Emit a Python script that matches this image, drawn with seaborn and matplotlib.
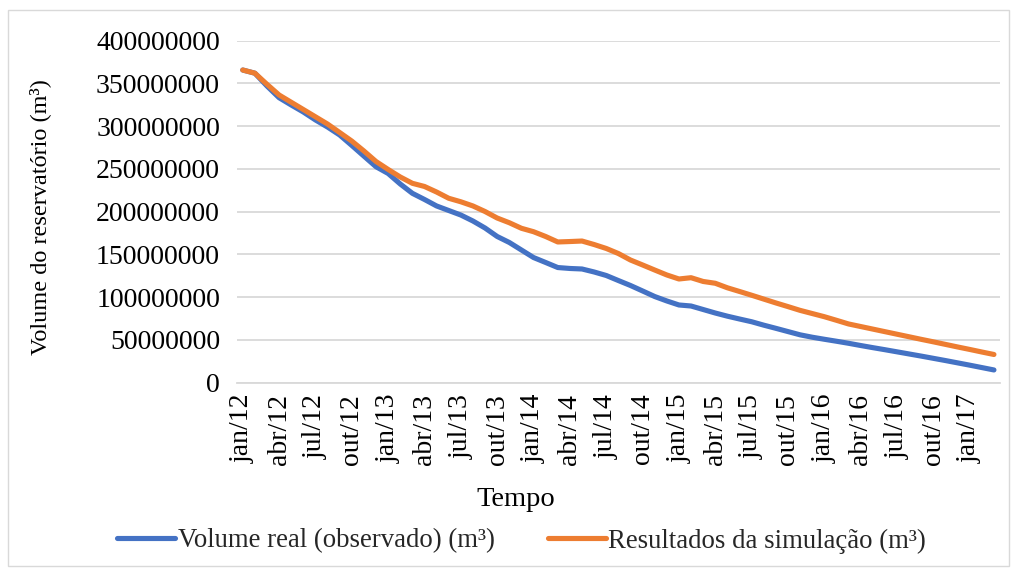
import numpy as np
import pandas as pd
import matplotlib.pyplot as plt
import seaborn as sns
from matplotlib.patches import Rectangle

# Meses (jan/12 .. mar/17)
meses = ['jan', 'fev', 'mar', 'abr', 'mai', 'jun', 'jul', 'ago', 'set', 'out', 'nov', 'dez']
datas = [f'{m}/{a}' for a in range(12, 18) for m in meses][:63]

# Volumes em milhões de m³
volume_real = [
    365.7, 362.0, 347.0, 333.3, 324.8, 316.6, 307.3, 299.0, 289.7, 277.5,
    265.0, 252.6, 244.7, 232.4, 221.5, 214.3, 206.7, 201.4, 196.1, 189.1,
    180.9, 171.0, 164.0, 155.2, 146.4, 140.6, 134.7, 133.6, 133.0, 129.5,
    125.4, 119.5, 113.7, 107.3, 100.8, 95.6, 90.9, 89.7, 85.6, 81.5,
    77.8, 74.5, 71.3, 67.3, 63.6, 59.8, 56.0, 53.2, 50.8, 48.5,
    46.1, 43.5, 41.0, 38.6, 36.1, 33.6, 31.1, 28.5, 25.9, 23.2,
    20.5, 17.7, 14.9,
]
simulacao = [
    365.7, 362.0, 349.0, 336.5, 328.0, 319.5, 311.0, 302.5, 292.6, 282.6,
    271.0, 258.7, 249.4, 240.6, 233.2, 229.5, 223.0, 215.7, 211.6, 206.7,
    200.2, 192.6, 187.1, 180.6, 176.6, 171.0, 164.6, 165.1, 165.7, 161.6,
    157.0, 151.1, 143.5, 137.7, 131.8, 126.0, 121.3, 122.8, 118.4, 116.3,
    111.0, 106.7, 102.3, 97.8, 93.3, 89.0, 84.6, 80.9, 77.2, 73.0,
    68.7, 65.7, 62.7, 59.7, 56.7, 53.7, 50.7, 47.8, 44.8, 41.8,
    38.9, 35.9, 33.0,
]
y_ticks = [0, 50000000, 100000000, 150000000, 200000000,
           250000000, 300000000, 350000000, 400000000]

lbl_real = 'Volume real (observado) (m³)'
lbl_sim = 'Resultados da simulação (m³)'

df = pd.DataFrame({
    'idx': list(range(len(datas))) * 2,
    'volume': np.array(volume_real + simulacao) * 1e6,
    'serie': [lbl_real] * len(datas) + [lbl_sim] * len(datas),
})

sns.set_theme(style='white')
plt.rcParams['font.family'] = ['Liberation Serif', 'DejaVu Serif']

fig = plt.figure(figsize=(10.17, 5.70), dpi=100)
ax = fig.add_axes([236.7 / 1017, 1 - 382.7 / 570, (1000 - 236.7) / 1017, 342 / 570])

sns.lineplot(data=df, x='idx', y='volume', hue='serie', hue_order=[lbl_real, lbl_sim],
             palette=['#4472C4', '#ED7D31'], lw=3.7, sort=False, ax=ax,
             solid_capstyle='round', solid_joinstyle='round')

handles, labels = ax.get_legend_handles_labels()
ax.legend_.remove()

n = len(datas)
ax.set_xlim(-0.5, n - 0.5)
ax.set_ylim(0, 400000000)
ax.set_yticks(y_ticks)
ax.set_yticklabels([str(v) for v in y_ticks], fontsize=20, color='black')
ax.tick_params(axis='y', length=0, pad=12)

# tick marks on category boundaries, labels on every 3rd month
ax.set_xticks(np.arange(-0.5, n, 3))
ax.set_xticklabels([])
ax.set_xticks(np.arange(0, n, 3), minor=True)
ax.set_xticklabels(datas[::3], minor=True, rotation=90, fontsize=20, color='black')
ax.tick_params(axis='x', which='major', length=6, width=1.3, color='#D9D9D9', direction='out')
ax.tick_params(axis='x', which='minor', length=0, pad=8)

ax.grid(axis='y', color='#D9D9D9', lw=1.3)
ax.grid(axis='x', visible=False)
for s in ['top', 'right', 'left']:
    ax.spines[s].set_visible(False)
ax.spines['bottom'].set_color('#D9D9D9')
ax.spines['bottom'].set_linewidth(1.3)

ax.set_ylabel('Volume do reservatório (m³)', fontsize=17.5, color='black')
ax.yaxis.set_label_coords(-0.243, 0.483)
ax.set_xlabel('Tempo', fontsize=20.5, color='black')
ax.xaxis.set_label_coords(0.366, -0.305)

fig.legend(handles, labels, loc='center', bbox_to_anchor=(0.513, 0.051), ncol=2,
           frameon=False, fontsize=19.3, handlelength=2.15, handletextpad=0.1,
           columnspacing=2.0)

fig.patches.append(Rectangle((8 / 1017, 4 / 570), 1001 / 1017, 556 / 570,
                             transform=fig.transFigure, fill=False,
                             ec='#D9D9D9', lw=1))

fig.savefig('out.png', dpi=100)
